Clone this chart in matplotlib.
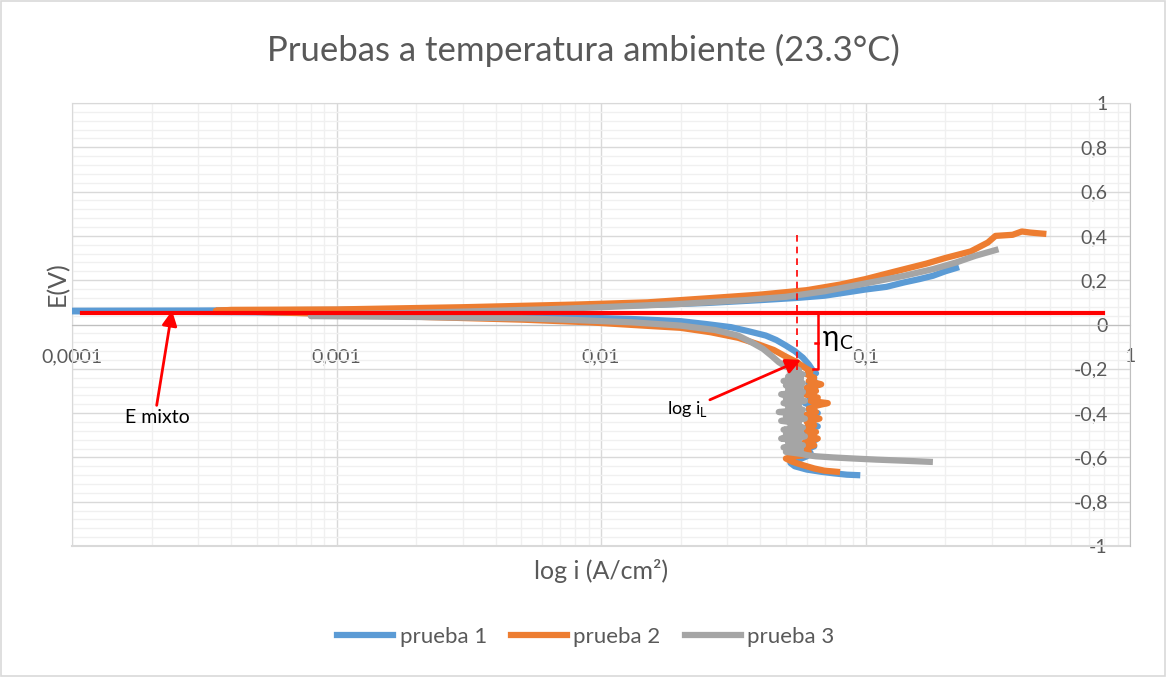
import matplotlib.pyplot as plt
import matplotlib.patches as patches

# prueba 1 (i in A/cm2, E in V), scan from cathodic end to anodic end
i_p1 = [0.093, 0.085, 0.076, 0.068, 0.060, 0.054, 0.052, 0.056, 0.060,
        0.062, 0.059, 0.064, 0.060, 0.065, 0.061, 0.063, 0.059, 0.066, 0.061,
        0.064, 0.060, 0.066, 0.061, 0.064, 0.059, 0.065, 0.061, 0.063, 0.060,
        0.065, 0.061, 0.064, 0.062, 0.065, 0.063,
        0.061, 0.058, 0.054, 0.050, 0.046, 0.042, 0.036, 0.031, 0.025, 0.020,
        0.013, 0.008, 0.004, 0.002, 0.001, 0.0005, 0.0002, 0.00008,
        0.0001, 0.0003, 0.001, 0.003, 0.008, 0.015, 0.025, 0.040, 0.055,
        0.070, 0.085, 0.100, 0.120, 0.140, 0.160, 0.180, 0.200, 0.220]
E_p1 = [-0.680, -0.678, -0.672, -0.665, -0.655, -0.640, -0.625, -0.610, -0.595,
        -0.580, -0.565, -0.550, -0.535, -0.520, -0.505, -0.490, -0.475, -0.460, -0.445,
        -0.430, -0.415, -0.400, -0.385, -0.370, -0.355, -0.340, -0.325, -0.310, -0.295,
        -0.280, -0.265, -0.250, -0.235, -0.220, -0.205,
        -0.180, -0.150, -0.120, -0.095, -0.070, -0.050, -0.030, -0.012, 0.002, 0.015,
        0.025, 0.032, 0.040, 0.046, 0.050, 0.055, 0.058, 0.060,
        0.062, 0.063, 0.066, 0.072, 0.080, 0.088, 0.097, 0.110, 0.120,
        0.130, 0.145, 0.158, 0.170, 0.190, 0.205, 0.220, 0.240, 0.255]

# prueba 2
i_p2 = [0.078, 0.070, 0.064, 0.058, 0.053, 0.050, 0.054, 0.059,
        0.061, 0.058, 0.064, 0.059, 0.066, 0.060, 0.065, 0.058, 0.064, 0.060,
        0.067, 0.059, 0.065, 0.061, 0.066, 0.072, 0.062, 0.066, 0.059, 0.065,
        0.060, 0.068, 0.061, 0.064, 0.060, 0.062, 0.059,
        0.055, 0.050, 0.045, 0.039, 0.033, 0.026, 0.020, 0.014, 0.009, 0.005, 0.002,
        0.0008, 0.00035, 0.0004, 0.001, 0.003, 0.008, 0.015, 0.025, 0.040,
        0.060, 0.080, 0.100, 0.130, 0.170, 0.200, 0.250, 0.290, 0.310, 0.360,
        0.390, 0.420, 0.470]
E_p2 = [-0.665, -0.660, -0.650, -0.635, -0.620, -0.605, -0.595, -0.590,
        -0.575, -0.560, -0.545, -0.530, -0.515, -0.500, -0.485, -0.470, -0.455, -0.440,
        -0.425, -0.410, -0.395, -0.380, -0.365, -0.355, -0.345, -0.330, -0.315, -0.300,
        -0.285, -0.270, -0.255, -0.240, -0.225, -0.210, -0.195,
        -0.170, -0.145, -0.115, -0.088, -0.060, -0.035, -0.015, -0.004, 0.010, 0.022, 0.035,
        0.050, 0.062, 0.066, 0.068, 0.078, 0.090, 0.100, 0.118, 0.135,
        0.155, 0.180, 0.205, 0.240, 0.275, 0.300, 0.330, 0.370, 0.400, 0.405,
        0.420, 0.415, 0.410]

# prueba 3
i_p3 = [0.175, 0.140, 0.110, 0.090, 0.075, 0.065, 0.060,
        0.058, 0.050, 0.057, 0.049, 0.058, 0.051, 0.056, 0.048, 0.059, 0.050,
        0.057, 0.049, 0.058, 0.052, 0.056, 0.048, 0.059, 0.050, 0.057, 0.047,
        0.058, 0.051, 0.056, 0.049, 0.059, 0.050, 0.057, 0.048, 0.058, 0.051,
        0.057, 0.050, 0.058, 0.049, 0.057, 0.051, 0.058, 0.052, 0.056,
        0.050, 0.047, 0.044, 0.041, 0.037, 0.033, 0.027, 0.020, 0.013, 0.008, 0.005, 0.002, 0.0008,
        0.0009, 0.0015, 0.003, 0.006, 0.010, 0.020, 0.035, 0.050, 0.070,
        0.090, 0.110, 0.140, 0.180, 0.220, 0.260, 0.310]
E_p3 = [-0.620, -0.615, -0.610, -0.605, -0.600, -0.595, -0.590,
        -0.585, -0.575, -0.565, -0.555, -0.545, -0.535, -0.525, -0.515, -0.505, -0.495,
        -0.485, -0.475, -0.465, -0.455, -0.445, -0.435, -0.425, -0.415, -0.405, -0.395,
        -0.385, -0.375, -0.365, -0.355, -0.345, -0.335, -0.325, -0.315, -0.305, -0.295,
        -0.285, -0.275, -0.265, -0.255, -0.245, -0.235, -0.225, -0.215, -0.205,
        -0.190, -0.170, -0.140, -0.110, -0.080, -0.050, -0.025, -0.005, 0.010, 0.020, 0.028, 0.034, 0.038,
        0.045, 0.050, 0.058, 0.068, 0.078, 0.093, 0.110, 0.125, 0.150,
        0.175, 0.195, 0.220, 0.250, 0.280, 0.310, 0.336]

series_names = ['prueba 1', 'prueba 2', 'prueba 3']
series_colors = ['#5B9BD5', '#ED7D31', '#A5A5A5']

x_ticks = [0.0001, 0.001, 0.01, 0.1, 1]
x_tick_labels = ['0,0001', '0,001', '0,01', '0,1', '1']
y_ticks = [-1, -0.8, -0.6, -0.4, -0.2, 0, 0.2, 0.4, 0.6, 0.8, 1]
y_tick_labels = ['-1', '-0,8', '-0,6', '-0,4', '-0,2', '0', '0,2', '0,4', '0,6', '0,8', '1']

# annotation values
E_mixto = 0.05
i_limit = 0.055
eta_top, eta_bottom, eta_x = 0.05, -0.20, 0.066

plt.rcParams['font.family'] = ['Lato', 'DejaVu Sans']
grey_txt = '#595959'

fig = plt.figure(figsize=(11.67, 6.77), dpi=100)
fig.patches.append(patches.Rectangle((0.001, 0.001), 0.997, 0.997, transform=fig.transFigure,
                                     fill=False, edgecolor='#D9D9D9', lw=1.2))
ax = fig.add_axes([72 / 1167, 1 - 546 / 677, (1130 - 72) / 1167, (546 - 103) / 677])

ax.set_xscale('log')
ax.set_xlim(0.0001, 1)
ax.set_ylim(-1, 1)

ax.set_xticks(x_ticks, labels=x_tick_labels)
ax.set_yticks(y_ticks, labels=y_tick_labels)
ax.set_yticks([v / 100 for v in range(-100, 101, 4)], minor=True)
ax.grid(True, which='major', color='#D9D9D9', lw=1)
ax.grid(True, which='minor', color='#F0F0F0', lw=1)
ax.set_axisbelow(True)

ax.yaxis.tick_right()
ax.tick_params(axis='both', which='both', length=0, colors=grey_txt, labelsize=14)
ax.tick_params(axis='y', pad=-16)
ax.tick_params(axis='x', pad=17)
ax.xaxis.set_minor_formatter(plt.NullFormatter())
for lbl in ax.get_yticklabels():
    lbl.set_horizontalalignment('right')

ax.spines['bottom'].set_position(('data', 0))
ax.spines['bottom'].set_color('#BFBFBF')
ax.spines['right'].set_color('#BFBFBF')
ax.spines['left'].set_color('#D9D9D9')
ax.spines['top'].set_color('#D9D9D9')
ax.axhline(-1, color='#D9D9D9', lw=1.5, clip_on=False)

for xs, ys, name, col in zip([i_p1, i_p2, i_p3], [E_p1, E_p2, E_p3], series_names, series_colors):
    ax.plot(xs, ys, color=col, lw=4.5, label=name, zorder=3)

# mixed potential line
ax.plot([0.000109, 0.79], [E_mixto, E_mixto], color='red', lw=3, zorder=4)
# limiting current dashed line
ax.plot([i_limit, i_limit], [0.405, -0.205], color='red', lw=1.2, ls=(0, (4, 3)), zorder=4)
# eta bracket
ax.plot([eta_x, eta_x, 0.0633], [eta_top, eta_bottom, eta_bottom], color='red', lw=1.8, zorder=4)
ax.plot([0.0643, eta_x], [-0.083, -0.083], color='red', lw=1.8, zorder=4)
ax.text(0.069, -0.062, 'η', fontsize=20, color='black', va='center', ha='left', zorder=5)
ax.text(0.0795, -0.085, 'C', fontsize=14, color='black', va='center', ha='left', zorder=5)

arrow = dict(arrowstyle='-|>,head_length=0.9,head_width=0.45', color='red', lw=2,
             shrinkA=0, shrinkB=0)
ax.annotate('', xy=(0.000239, 0.063), xytext=(0.000209, -0.365), arrowprops=arrow, zorder=5)
ax.annotate('', xy=(0.057, -0.16), xytext=(0.0258, -0.34), arrowprops=arrow, zorder=5)
ax.text(0.000211, -0.422, 'E mixto', fontsize=14, ha='center', va='center', color='black')
ax.text(0.0212, -0.38, r'log i$_{\mathregular{L}}$', fontsize=13, ha='center', va='center', color='black')

fig.text(583 / 1167, 1 - 50 / 677, 'Pruebas a temperatura ambiente (23.3°C)', fontsize=25,
         color=grey_txt, ha='center', va='center')
fig.text(57 / 1167, 1 - 284 / 677, 'E(V)', fontsize=18, color=grey_txt, rotation=90,
         ha='center', va='center')
fig.text(601 / 1167, 1 - 571 / 677, 'log i (A/cm²)', fontsize=18, color=grey_txt,
         ha='center', va='center')

fig.legend(loc='center', bbox_to_anchor=(586 / 1167, 1 - 637 / 677), ncol=3, frameon=False,
           fontsize=16, handlelength=2.5, columnspacing=1.1, handletextpad=0.3, labelcolor=grey_txt)

fig.savefig('out.png', dpi=100)
